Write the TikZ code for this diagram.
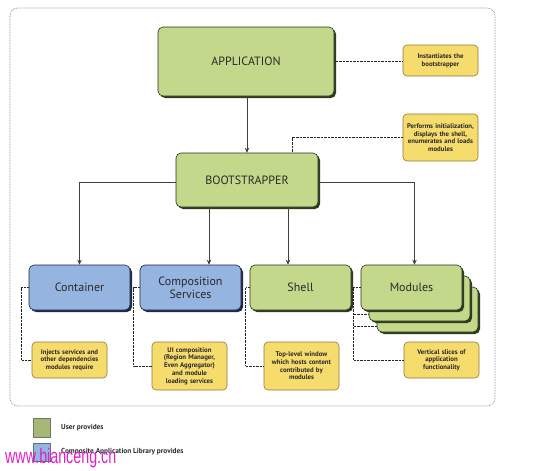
\documentclass[tikz,border=0pt]{standalone}
\usepackage{fontspec}
\setmainfont{PT Sans}
\newfontfamily\wmfont{Liberation Sans}
\usetikzlibrary{shadows,arrows.meta,calc}
\definecolor{gfill}{HTML}{C3D88A}
\definecolor{gdark}{HTML}{2E3B1F}
\definecolor{bfill}{HTML}{96B4E0}
\definecolor{bdark}{HTML}{1F2A45}
\definecolor{yfill}{HTML}{F6DB6D}
\definecolor{ydark}{HTML}{8C7A3C}
\definecolor{framec}{HTML}{8A93A8}
\definecolor{txt}{HTML}{2A2A2A}
\definecolor{wm}{HTML}{E020C8}
\tikzset{
  mainbox/.style={draw=#1!80!black, line width=0.6pt, rounded corners=5pt, align=center,
     text=txt, font=\fontsize{12}{13}\selectfont, inner sep=0pt},
  greenbox/.style={mainbox=gdark, fill=gfill, general shadow={fill=gdark, shadow xshift=2pt, shadow yshift=-2pt}},
  bluebox/.style={mainbox=bdark, fill=bfill, general shadow={fill=bdark, shadow xshift=2pt, shadow yshift=-2pt}},
  notebox/.style={draw=ydark, fill=yfill, line width=0.6pt, rounded corners=4pt, minimum width=75pt,
     align=center, text=txt, font=\bfseries\fontsize{6.8}{7.7}\selectfont, inner sep=0pt, text width=74pt},
  arr/.style={draw=black!75, line width=0.6pt, -{Stealth[length=5pt,width=4.5pt]}},
  dotc/.style={draw=black!85, line width=1pt, dash pattern=on 0.7pt off 0.7pt},
}
\begin{document}
\begin{tikzpicture}[x=1pt,y=-1pt]
\useasboundingbox (0,0) rectangle (558,471);
% outer frame
\draw[framec, line width=0.7pt, dash pattern=on 0.8pt off 0.8pt, rounded corners=8pt] (10,8) rectangle (495,406);

\node[greenbox, minimum width=176pt, minimum height=69pt] (app) at (246,61.5) {APPLICATION};
\node[greenbox, minimum width=142pt, minimum height=54pt] (boot) at (247,180) {BOOTSTRAPPER};

\node[notebox, minimum height=31pt] (inst) at (440.5,60.5) {Instantiates the\\bootstrapper};
\node[notebox, minimum height=47pt] (perf) at (440.5,137.5) {Performs initialization,\\displays the shell,\\enumerates and loads\\modules};

\node[bluebox, minimum width=101pt, minimum height=45pt] (cont) at (79.5,287.5) {Container};
\node[bluebox, minimum width=101pt, minimum height=45pt] (comp) at (190.5,287.5) {Composition\\Services};
\node[greenbox, minimum width=101pt, minimum height=45pt] (shell) at (300.5,287.5) {Shell};
\node[greenbox, minimum width=101pt, minimum height=45pt] (mod3) at (427.5,309.5) {};
\node[greenbox, minimum width=101pt, minimum height=45pt] (mod2) at (419.5,298.5) {};
\node[greenbox, minimum width=101pt, minimum height=45pt] (mod) at (411.5,287.5) {Modules};

\node[notebox, minimum height=36pt] (inj) at (69.5,360) {Injects services and\\other dependencies\\modules require};
\node[notebox, minimum height=48pt] (ui) at (189.5,366) {UI composition\\(Region Manager,\\Even Aggregator)\\and module\\loading services};
\node[notebox, minimum height=48pt] (top) at (301.5,366) {Top-level window\\which hosts content\\contributed by\\modules};
\node[notebox, minimum height=36pt] (vert) at (441.5,360) {Vertical slices of\\application\\functionality};

% arrows
\draw[arr] (app.south -| boot.north) -- (boot.north);
\draw[arr] ([yshift=-2pt]boot.west) -| (cont.north);
\draw[arr] ([yshift=-2pt]boot.east) -| ([xshift=3pt]mod.north);
\draw[arr] ([xshift=-38pt]boot.south) -- ([xshift=-38pt]boot.south |- comp.north);
\draw[arr] ([xshift=41pt]boot.south) -- ([xshift=41pt]boot.south |- shell.north);

% dotted connectors
\draw[dotc] (app.east) -- (app.east -| inst.west);
\draw[dotc] (perf.west) -| ([xshift=45pt]boot.north);
\draw[dotc] (cont.west) -- ++(-7,0) |- (inj.west);
\draw[dotc] (comp.west) -- ++(-6,0) |- (ui.west);
\draw[dotc] (shell.west) -- ++(-4,0) |- (top.west);
\draw[dotc] (mod.west) -- ++(-7,0) coordinate (mv) |- (vert.west);
\coordinate (m2e) at ([yshift=7pt]mod2.south west);
\coordinate (m3e) at ([yshift=5.5pt]mod3.south west);
\draw[dotc] (mv |- m2e) -- (m2e);
\draw[dotc] (mv |- m3e) -- (m3e);

% legend
\node[draw=gdark!70, fill=gfill!85!black, minimum width=17pt, minimum height=19pt, inner sep=0pt] (lg) at (41.5,427.5) {};
\node[draw=bdark!70, fill=bfill, minimum width=17pt, minimum height=18pt, inner sep=0pt] (lb) at (41.5,452) {};
\node[anchor=west, text=txt, font=\bfseries\fontsize{7.3}{8}\selectfont, inner sep=0pt] (lgt) at (61,428) {User provides};
\node[anchor=west, text=txt, font=\bfseries\fontsize{7.3}{8}\selectfont, inner sep=0pt] (lbt) at (61,452) {Composite Application Library provides};

% watermark
\node[anchor=base west, text=wm, font=\wmfont\fontsize{21}{22}\selectfont, inner sep=0pt, xscale=0.68] (wmk) at (5,463) {www.bianceng.cn};
\end{tikzpicture}
\end{document}
